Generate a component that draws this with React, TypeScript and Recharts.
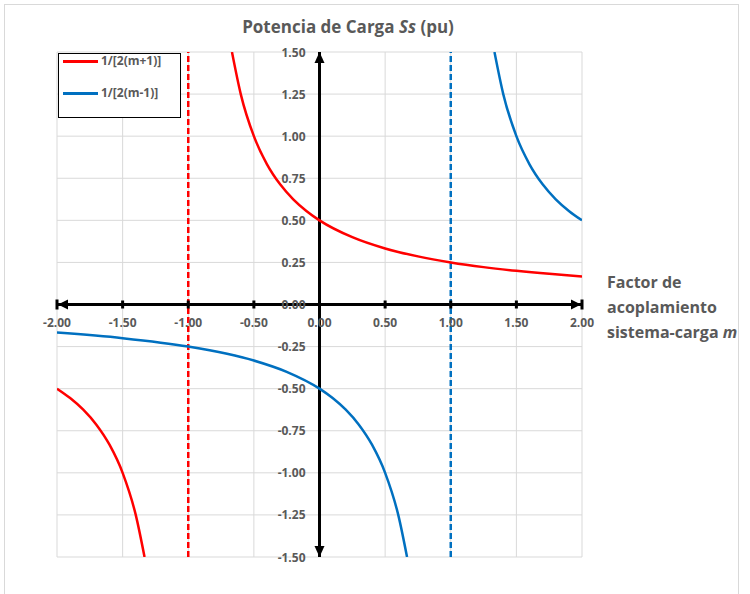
import React from 'react';
import { LineChart, Line, XAxis, YAxis, CartesianGrid, ReferenceLine, ReferenceDot } from 'recharts';

const title = 'Potencia de Carga ';
const titleItalic = 'Ss';
const titleEnd = ' (pu)';
const xTitleLines = ['Factor de', 'acoplamiento', 'sistema-carga '];
const xTitleItalic = 'm';

const xTicks = [-2, -1.5, -1, -0.5, 0, 0.5, 1, 1.5, 2];
const yTicks = [-1.5, -1.25, -1, -0.75, -0.5, -0.25, 0, 0.25, 0.5, 0.75, 1, 1.25, 1.5];

const redName = '1/[2(m+1)]';
const blueName = '1/[2(m-1)]';

// red branch right of asymptote
const redRightM = [-0.667, -0.6, -0.5, -0.4, -0.3, -0.2, -0.1, 0, 0.25, 0.5, 0.75, 1, 1.25, 1.5, 1.75, 2];
const redRightS = [1.5, 1.25, 1.0, 0.833, 0.714, 0.625, 0.556, 0.5, 0.4, 0.333, 0.286, 0.25, 0.222, 0.2, 0.182, 0.167];
// red branch left of asymptote
const redLeftM = [-2, -1.9, -1.8, -1.7, -1.6, -1.5, -1.4, -1.333];
const redLeftS = [-0.5, -0.556, -0.625, -0.714, -0.833, -1.0, -1.25, -1.5];
// blue branch left of asymptote
const blueLeftM = [-2, -1.5, -1, -0.5, -0.25, 0, 0.1, 0.2, 0.3, 0.4, 0.5, 0.6, 0.667];
const blueLeftS = [-0.167, -0.2, -0.25, -0.333, -0.4, -0.5, -0.556, -0.625, -0.714, -0.833, -1.0, -1.25, -1.5];
// blue branch right of asymptote
const blueRightM = [1.333, 1.4, 1.5, 1.6, 1.7, 1.8, 1.9, 2];
const blueRightS = [1.5, 1.25, 1.0, 0.833, 0.714, 0.625, 0.556, 0.5];

const asymptotes = [
  { m: -1, color: '#ff0000' },
  { m: 1, color: '#0070c0' },
];

const build = (ms: number[], ss: number[]) => ms.map((m, i) => ({ m, s: ss[i] }));
const redRight = build(redRightM, redRightS);
const redLeft = build(redLeftM, redLeftS);
const blueLeft = build(blueLeftM, blueLeftS);
const blueRight = build(blueRightM, blueRightS);

const FONT = '"Open Sans", sans-serif';
const GRAY = '#595959';
const fmt = (v: number) => v.toFixed(2);

const xLabelShape = (t: number) => (p: any) => (
  <text x={p.cx} y={p.cy + 18} textAnchor="middle" dominantBaseline="central" fontFamily={FONT} fontSize={12} fontWeight="bold" fill={GRAY}>
    {fmt(t)}
  </text>
);
const yLabelShape = (t: number) => (p: any) => (
  <text x={p.cx - 14} y={p.cy} textAnchor="end" dominantBaseline="central" fontFamily={FONT} fontSize={12} fontWeight="bold" fill={GRAY}>
    {fmt(t)}
  </text>
);
const tickMark = (p: any) => <rect x={p.cx - 1.5} y={p.cy - 4} width={3} height={8} fill="#000" />;
const endBar = (p: any) => <rect x={p.cx - 1.5} y={p.cy - 5} width={3} height={10} fill="#000" />;
const arrowLeft = (p: any) => <polygon points={`${p.cx + 1},${p.cy} ${p.cx + 11},${p.cy - 5} ${p.cx + 11},${p.cy + 5}`} fill="#000" />;
const arrowRight = (p: any) => <polygon points={`${p.cx - 1},${p.cy} ${p.cx - 11},${p.cy - 5} ${p.cx - 11},${p.cy + 5}`} fill="#000" />;
const arrowUp = (p: any) => <polygon points={`${p.cx},${p.cy} ${p.cx - 5},${p.cy + 11} ${p.cx + 5},${p.cy + 11}`} fill="#000" />;
const arrowDown = (p: any) => <polygon points={`${p.cx},${p.cy} ${p.cx - 5},${p.cy - 11} ${p.cx + 5},${p.cy - 11}`} fill="#000" />;

export default function App() {
  return (
    <div style={{ position: 'absolute', left: 0, top: 0, width: 750, height: 594, background: '#fff', overflow: 'hidden' }}>
      <div style={{ position: 'absolute', left: 4, top: 4, width: 735, height: 600, border: '1px solid #d9d9d9', boxSizing: 'border-box' }} />
      <div style={{ position: 'absolute', left: 0, top: 15, width: 696, textAlign: 'center', fontFamily: FONT, fontWeight: 'bold', fontSize: 17, color: GRAY }}>
        {title}<i>{titleItalic}</i>{titleEnd}
      </div>
      <div style={{ position: 'absolute', left: 0, top: 0 }}>
        <LineChart width={750} height={594} margin={{ top: 52, right: 168, bottom: 37, left: 57 }}>
          <CartesianGrid stroke="#d9d9d9" strokeWidth={1} />
          <XAxis type="number" dataKey="m" domain={[-2, 2]} ticks={xTicks} allowDataOverflow hide />
          <YAxis type="number" dataKey="s" domain={[-1.5, 1.5]} ticks={yTicks} allowDataOverflow hide />
          <ReferenceLine y={0} stroke="#000" strokeWidth={3} />
          <ReferenceLine x={0} stroke="#000" strokeWidth={3} />
          {xTicks.slice(1, -1).map((t) => (
            <ReferenceDot key={'tm' + t} x={t} y={0} r={0} shape={tickMark} />
          ))}
          <ReferenceDot x={xTicks[0]} y={0} r={0} shape={endBar} />
          <ReferenceDot x={xTicks[xTicks.length - 1]} y={0} r={0} shape={endBar} />
          <ReferenceDot x={xTicks[0]} y={0} r={0} shape={arrowLeft} />
          <ReferenceDot x={xTicks[xTicks.length - 1]} y={0} r={0} shape={arrowRight} />
          <ReferenceDot x={0} y={yTicks[yTicks.length - 1]} r={0} shape={arrowUp} />
          <ReferenceDot x={0} y={yTicks[0]} r={0} shape={arrowDown} />
          {xTicks.map((t) => (
            <ReferenceDot key={'xl' + t} x={t} y={0} r={0} shape={xLabelShape(t)} />
          ))}
          {yTicks.map((t) => (
            <ReferenceDot key={'yl' + t} x={0} y={t} r={0} shape={yLabelShape(t)} />
          ))}
          {asymptotes.map((a) => (
            <ReferenceLine key={'as' + a.m} x={a.m} stroke={a.color} strokeWidth={2.5} strokeDasharray="6 3" />
          ))}
          <Line data={redRight} dataKey="s" type="monotone" stroke="#ff0000" strokeWidth={2.5} dot={false} isAnimationActive={false} name={redName} />
          <Line data={redLeft} dataKey="s" type="monotone" stroke="#ff0000" strokeWidth={2.5} dot={false} isAnimationActive={false} legendType="none" />
          <Line data={blueLeft} dataKey="s" type="monotone" stroke="#0070c0" strokeWidth={2.5} dot={false} isAnimationActive={false} name={blueName} />
          <Line data={blueRight} dataKey="s" type="monotone" stroke="#0070c0" strokeWidth={2.5} dot={false} isAnimationActive={false} legendType="none" />
        </LineChart>
      </div>
      <div style={{ position: 'absolute', left: 58, top: 53, width: 123, height: 65, border: '1px solid #000', boxSizing: 'border-box', background: '#fff', fontFamily: FONT, fontWeight: 'bold', fontSize: 12, color: GRAY }}>
        <div style={{ position: 'absolute', left: 4, top: 6, width: 35, height: 3, background: '#ff0000' }} />
        <div style={{ position: 'absolute', left: 42, top: -2, lineHeight: '18px' }}>{redName}</div>
        <div style={{ position: 'absolute', left: 4, top: 38, width: 35, height: 3, background: '#0070c0' }} />
        <div style={{ position: 'absolute', left: 42, top: 30, lineHeight: '18px' }}>{blueName}</div>
      </div>
      <div style={{ position: 'absolute', left: 607, top: 270, fontFamily: FONT, fontWeight: 'bold', fontSize: 16, lineHeight: '25px', color: GRAY, whiteSpace: 'nowrap' }}>
        <div>{xTitleLines[0]}</div>
        <div>{xTitleLines[1]}</div>
        <div>{xTitleLines[2]}<i>{xTitleItalic}</i></div>
      </div>
    </div>
  );
}
